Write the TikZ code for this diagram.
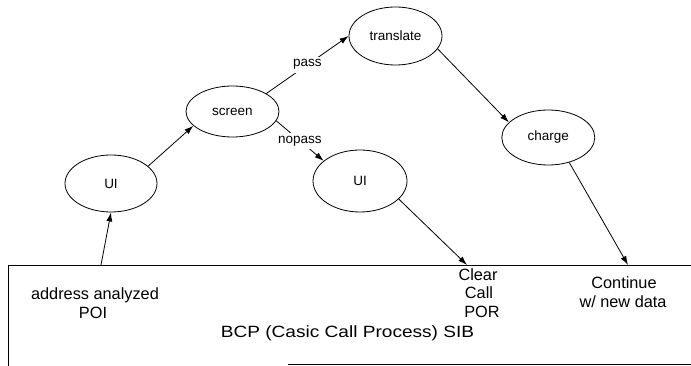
\documentclass[tikz,border=0pt]{standalone}
\usepackage{fontspec}
\setmainfont{Liberation Sans}
\usetikzlibrary{shapes.geometric,arrows.meta}
\begin{document}
\begin{tikzpicture}[x=1pt,y=-1pt,
  state/.style={ellipse,draw,line width=0.8pt,inner sep=0pt,font=\fontsize{13.5}{15}\selectfont},
  flow/.style={line width=0.8pt,-{Latex[length=9pt,width=6pt]}},
  tag/.style={fill=white,inner sep=3pt,font=\fontsize{13.5}{15}\selectfont},
  boxtext/.style={anchor=base,inner sep=0pt,font=\fontsize{16.3}{19}\selectfont},
  frame/.style={line width=0.8pt}]
\useasboundingbox (0,0) rectangle (691,366);

% service-independent building blocks
\node[state,minimum width=92pt,minimum height=57pt] (ui1) at (111,183.5) {UI};
\node[state,minimum width=93pt,minimum height=51pt] (screen) at (232.5,111.5) {screen};
\node[state,minimum width=93pt,minimum height=58pt] (translate) at (395.5,36) {translate};
\node[state,minimum width=94pt,minimum height=62pt] (ui2) at (360,181) {UI};
\node[state,minimum width=93pt,minimum height=55pt] (charge) at (548.3,137.5) {charge};

% basic call process frame
\draw[frame] (691,265) -- (8,265) -- (8,366);
\draw[frame] (288,364) -- (691,364);

\coordinate (poi) at (101,265);
\coordinate (clr) at (467,265);
\coordinate (cnt) at (628,265);

% points of initiation / return
\node[boxtext] (addr) at (95,299) {address analyzed};
\node[boxtext] (poilbl) at (93,318) {POI};
\node[boxtext] (clear) at (478,280) {Clear};
\node[boxtext] (call) at (479,298.5) {Call};
\node[boxtext] (por) at (482,317) {POR};
\node[boxtext] (contin) at (624,288) {Continue};
\node[boxtext] (newdata) at (623,308) {w/ new data};
\node[boxtext] (sib) at (347.5,337) {\scalebox{1.17}[1]{BCP (Casic Call Process) SIB}};

% global service logic
\draw[flow] (poi) -- (ui1.south);
\draw[flow] (ui1.25) -- (screen.200);
\draw[flow] (screen.28) -- node[tag] {pass} (translate.180);
\draw[flow] (screen.-12) -- node[tag] {nopass} (ui2.151);
\draw[flow] (translate.-17) -- (charge.159);
\draw[flow] (ui2.-25) -- (clr);
\draw[flow] (charge.-50) -- (cnt);
\end{tikzpicture}
\end{document}
